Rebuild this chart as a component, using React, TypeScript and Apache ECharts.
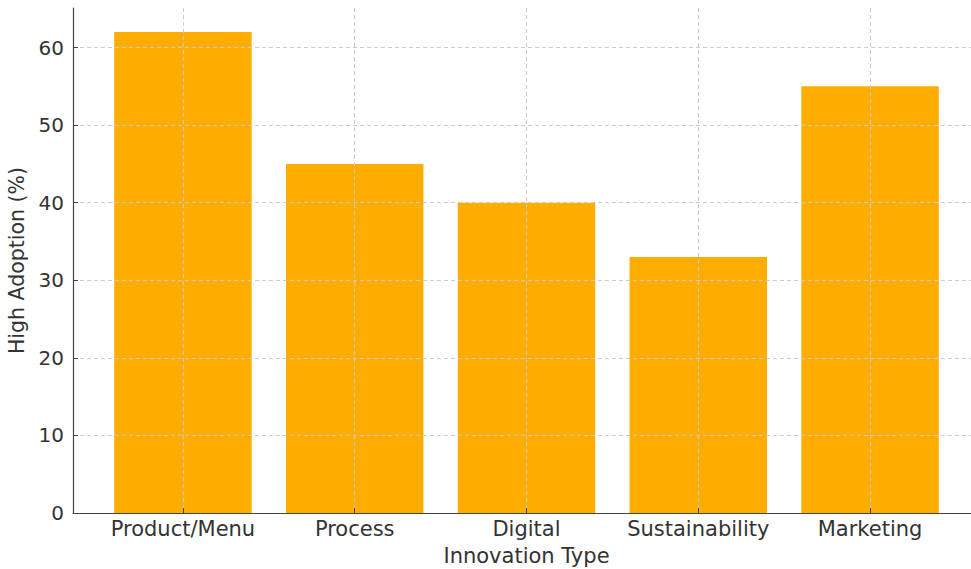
import React, { useEffect, useRef } from "react";
import * as echarts from "echarts";

const categories = ["Product/Menu", "Process", "Digital", "Sustainability", "Marketing"];
const adoption = [62, 45, 40, 33, 55];
const categoryPositions = [0, 1, 2, 3, 4];
const yTicks = [0, 10, 20, 30, 40, 50, 60];

const FONT = "DejaVu Sans";
const TEXT = "#333333";
const SPINE = "#444444";

export default function App() {
  const ref = useRef<HTMLDivElement>(null);
  useEffect(() => {
    if (!ref.current) return;
    const chart = echarts.init(ref.current, undefined, { renderer: "svg" });
    chart.setOption({
      animation: false,
      backgroundColor: "#ffffff",
      textStyle: { fontFamily: FONT },
      grid: { left: 73, top: 8, width: 907, height: 505, containLabel: false, outerBoundsMode: "none" },
      xAxis: {
        type: "value",
        min: -0.64,
        max: 4.64,
        z: 10,
        name: "Innovation Type",
        nameLocation: "middle",
        nameGap: 32,
        nameTextStyle: { fontFamily: FONT, fontSize: 21, color: TEXT },
        axisLine: { show: true, onZero: false, lineStyle: { color: SPINE, width: 1.2 } },
        axisTick: { show: true, inside: true, length: 5, customValues: categoryPositions, lineStyle: { color: SPINE } },
        axisLabel: {
          customValues: categoryPositions,
          formatter: (v: number) => categories[Math.round(v)] ?? "",
          fontFamily: FONT,
          fontSize: 21,
          color: TEXT,
          margin: 5,
        },
        splitLine: { show: true, lineStyle: { color: "#cccccc", type: [4, 3], width: 1 } },
      },
      yAxis: {
        type: "value",
        min: 0,
        max: 65.1,
        interval: 10,
        z: 10,
        name: "High Adoption (%)",
        nameLocation: "middle",
        nameGap: 38,
        nameTextStyle: { fontFamily: FONT, fontSize: 20.5, color: TEXT },
        axisLine: { show: true, onZero: false, lineStyle: { color: SPINE, width: 1.2 } },
        axisTick: { show: true, inside: true, length: 5, customValues: yTicks, lineStyle: { color: SPINE } },
        axisLabel: {
          customValues: yTicks,
          fontFamily: FONT,
          fontSize: 20,
          color: TEXT,
          margin: 9,
        },
        splitLine: { show: true, lineStyle: { color: "#cccccc", type: [4, 3], width: 1 } },
      },
      series: [
        {
          type: "bar",
          data: adoption.map((v, i) => [categoryPositions[i], v]),
          barWidth: "80%",
          itemStyle: { color: "#ffad00" },
          z: 2,
        },
      ],
    });
    return () => chart.dispose();
  }, []);
  return (
    <div
      ref={ref}
      style={{ position: "fixed", left: 0, top: 0, width: 971, height: 569 }}
    />
  );
}
